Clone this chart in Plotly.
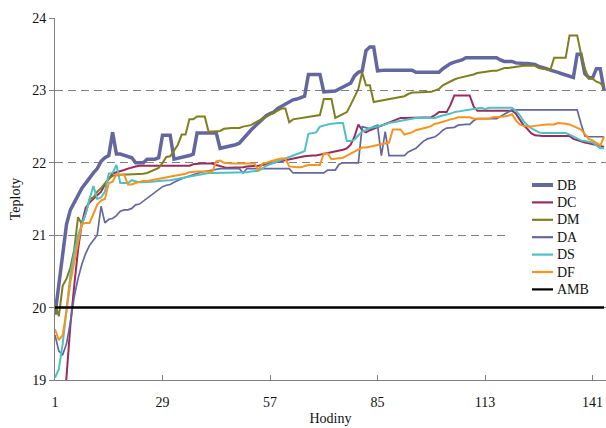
import plotly.graph_objects as go

HOURS = list(range(1, 145))
TICKS = [1, 29, 57, 85, 113, 141]

DB = [19.90, 20.35, 20.80, 21.15, 21.35, 21.45, 21.55, 21.65, 21.72, 21.80,
      21.86, 21.92, 22.02, 22.07, 22.10, 22.42, 22.12, 22.12, 22.10, 22.08,
      22.07, 22.00, 22.00, 22.00, 22.05, 22.05, 22.05, 22.07, 22.38, 22.38,
      22.38, 22.05, 22.06, 22.08, 22.09, 22.10, 22.12, 22.41, 22.41, 22.41,
      22.41, 22.41, 22.41, 22.20, 22.21, 22.22, 22.23, 22.25, 22.27, 22.33,
      22.40, 22.45, 22.50, 22.55, 22.60, 22.65, 22.68, 22.70, 22.75, 22.78,
      22.80, 22.83, 22.87, 22.88, 22.90, 22.92, 23.22, 23.22, 23.22, 23.22,
      22.98, 22.98, 22.98, 22.99, 23.02, 23.05, 23.08, 23.10, 23.20, 23.25,
      23.27, 23.55, 23.60, 23.60, 23.27, 23.28, 23.28, 23.28, 23.28, 23.28,
      23.28, 23.28, 23.28, 23.28, 23.25, 23.25, 23.25, 23.25, 23.25, 23.25,
      23.25, 23.30, 23.34, 23.37, 23.39, 23.40, 23.42, 23.45, 23.45, 23.45,
      23.45, 23.45, 23.45, 23.45, 23.45, 23.45, 23.42, 23.40, 23.40, 23.40,
      23.38, 23.37, 23.37, 23.37, 23.36, 23.36, 23.33, 23.32, 23.30, 23.28,
      23.27, 23.25, 23.23, 23.21, 23.19, 23.18, 23.50, 23.50, 23.23, 23.18,
      23.17, 23.30, 23.30, 23.00]

DC = [17.50, 17.90, 18.40, 19.05, 19.75, 20.30, 20.80, 21.17, 21.38, 21.45,
      21.50, 21.55, 21.60, 21.70, 21.78, 21.85, 21.87, 21.88, 21.90, 21.92,
      21.94, 21.95, 21.96, 21.96, 21.96, 21.96, 21.96, 21.96, 21.96, 21.96,
      21.96, 21.96, 21.96, 21.96, 21.96, 21.96, 21.98, 21.99, 21.99, 21.99,
      21.99, 21.99, 21.97, 21.95, 21.94, 21.93, 21.93, 21.93, 21.93, 21.94,
      21.95, 21.95, 21.96, 21.96, 21.97, 21.98, 21.99, 22.00, 22.01, 22.02,
      22.03, 22.05, 22.06, 22.07, 22.08, 22.09, 22.10, 22.10, 22.10, 22.11,
      22.12, 22.13, 22.14, 22.15, 22.16, 22.18, 22.20, 22.25, 22.36, 22.53,
      22.45, 22.42, 22.45, 22.47, 22.50, 22.52, 22.53, 22.55, 22.57, 22.60,
      22.62, 22.62, 22.62, 22.62, 22.62, 22.62, 22.62, 22.62, 22.63, 22.66,
      22.70, 22.70, 22.70, 22.80, 22.93, 22.93, 22.93, 22.93, 22.93, 22.78,
      22.72, 22.72, 22.72, 22.72, 22.72, 22.72, 22.72, 22.72, 22.72, 22.72,
      22.68, 22.60, 22.52, 22.47, 22.41, 22.38, 22.37, 22.37, 22.37, 22.37,
      22.37, 22.37, 22.37, 22.37, 22.37, 22.33, 22.31, 22.29, 22.28, 22.27,
      22.26, 22.24, 22.23, 22.22]

DM = [20.05, 19.88, 20.30, 20.40, 20.55, 20.80, 21.25, 21.15, 21.30, 21.50,
      21.52, 21.60, 21.65, 21.72, 21.78, 21.82, 21.83, 21.84, 21.84, 21.84,
      21.84, 21.84, 21.84, 21.85, 21.86, 21.88, 21.90, 21.93, 22.00, 22.08,
      22.09, 22.18, 22.25, 22.39, 22.39, 22.60, 22.60, 22.64, 22.64, 22.64,
      22.43, 22.43, 22.43, 22.44, 22.47, 22.48, 22.48, 22.48, 22.48, 22.50,
      22.51, 22.52, 22.55, 22.58, 22.61, 22.63, 22.66, 22.69, 22.72, 22.75,
      22.75, 22.56, 22.60, 22.61, 22.62, 22.63, 22.64, 22.65, 22.66, 22.66,
      22.88, 22.88, 22.88, 22.62, 22.65, 22.67, 22.70, 22.80, 22.92, 23.02,
      23.25, 23.07, 23.07, 22.84, 22.85, 22.86, 22.87, 22.89, 22.90, 22.91,
      22.92, 22.92, 22.95, 22.97, 22.97, 22.97, 22.97, 22.97, 22.98, 23.00,
      23.02, 23.07, 23.10, 23.12, 23.15, 23.17, 23.18, 23.19, 23.20, 23.22,
      23.24, 23.25, 23.26, 23.27, 23.27, 23.27, 23.29, 23.31, 23.31, 23.32,
      23.32, 23.33, 23.34, 23.34, 23.34, 23.34, 23.31, 23.30, 23.30, 23.28,
      23.45, 23.45, 23.45, 23.45, 23.76, 23.76, 23.76, 23.50, 23.30, 23.16,
      23.16, 23.12, 23.10, 23.05]

DA = [19.62, 19.40, 19.35, 19.50, 19.80, 20.15, 20.40, 20.60, 20.75, 20.86,
      20.93, 21.00, 21.40, 21.17, 21.22, 21.23, 21.27, 21.33, 21.35, 21.35,
      21.37, 21.42, 21.43, 21.47, 21.52, 21.55, 21.60, 21.63, 21.67, 21.69,
      21.70, 21.73, 21.76, 21.78, 21.80, 21.82, 21.84, 21.85, 21.87, 21.88,
      21.89, 21.90, 21.92, 21.92, 21.92, 21.92, 21.92, 21.92, 21.92, 21.86,
      21.92, 21.92, 21.92, 21.92, 21.92, 21.92, 21.92, 21.92, 21.92, 21.92,
      21.92, 21.92, 21.86, 21.86, 21.86, 21.86, 21.86, 21.86, 21.86, 21.86,
      21.86, 21.90, 21.90, 21.90, 21.98, 22.00, 22.00, 22.00, 22.00, 22.00,
      22.50, 22.48, 22.47, 22.50, 22.52, 22.10, 22.43, 22.10, 22.10, 22.10,
      22.10, 22.10, 22.15, 22.18, 22.20, 22.25, 22.30, 22.33, 22.35, 22.36,
      22.40, 22.45, 22.48, 22.48, 22.49, 22.52, 22.53, 22.53, 22.53, 22.58,
      22.61, 22.61, 22.61, 22.61, 22.61, 22.61, 22.64, 22.67, 22.70, 22.73,
      22.73, 22.73, 22.73, 22.73, 22.73, 22.73, 22.73, 22.73, 22.73, 22.73,
      22.73, 22.73, 22.73, 22.73, 22.73, 22.73, 22.73, 22.54, 22.37, 22.36,
      22.36, 22.36, 22.36, 22.36]

DS = [19.03, 19.15, 19.50, 20.00, 20.45, 20.75, 21.00, 21.15, 21.30, 21.50,
      21.68, 21.50, 21.52, 21.60, 21.85, 21.86, 21.97, 21.72, 21.72, 21.72,
      21.76, 21.74, 21.73, 21.73, 21.73, 21.73, 21.74, 21.75, 21.75, 21.76,
      21.76, 21.77, 21.78, 21.79, 21.81, 21.82, 21.83, 21.84, 21.84, 21.85,
      21.86, 21.86, 21.86, 21.86, 21.86, 21.86, 21.86, 21.86, 21.86, 21.86,
      21.87, 21.88, 21.88, 21.89, 21.92, 21.96, 21.98, 22.00, 22.02, 22.04,
      22.06, 22.08, 22.10, 22.12, 22.14, 22.16, 22.40, 22.41, 22.42, 22.50,
      22.52, 22.53, 22.54, 22.55, 22.55, 22.55, 22.30, 22.30, 22.32, 22.38,
      22.43, 22.45, 22.48, 22.49, 22.50, 22.52, 22.53, 22.55, 22.56, 22.57,
      22.58, 22.60, 22.61, 22.62, 22.62, 22.62, 22.62, 22.62, 22.62, 22.62,
      22.64, 22.65, 22.67, 22.68, 22.70, 22.71, 22.72, 22.72, 22.73, 22.74,
      22.75, 22.76, 22.74, 22.76, 22.76, 22.76, 22.76, 22.76, 22.76, 22.76,
      22.72, 22.66, 22.58, 22.52, 22.48, 22.45, 22.42, 22.41, 22.41, 22.41,
      22.41, 22.41, 22.41, 22.41, 22.39, 22.36, 22.33, 22.31, 22.30, 22.29,
      22.28, 22.24, 22.20, 22.20]

DF = [19.70, 19.55, 19.62, 19.95, 20.35, 20.65, 20.90, 21.15, 21.17, 21.17,
      21.30, 21.42, 21.48, 21.50, 21.72, 21.74, 21.84, 21.84, 21.84, 21.70,
      21.70, 21.72, 21.74, 21.75, 21.75, 21.76, 21.77, 21.78, 21.79, 21.80,
      21.81, 21.82, 21.83, 21.84, 21.85, 21.87, 21.88, 21.88, 21.88, 21.88,
      21.88, 21.88, 22.02, 22.03, 22.00, 21.99, 21.99, 21.99, 21.99, 21.99,
      21.99, 21.99, 21.99, 21.89, 21.99, 22.00, 22.02, 22.03, 22.05, 22.06,
      22.06, 21.95, 21.94, 21.94, 21.94, 21.96, 21.97, 21.97, 21.97, 21.97,
      22.13, 22.13, 22.05, 22.06, 22.06, 22.07, 22.10, 22.13, 22.16, 22.19,
      22.21, 22.21, 22.22, 22.23, 22.25, 22.26, 22.27, 22.28, 22.46, 22.46,
      22.46, 22.39, 22.40, 22.42, 22.45, 22.46, 22.47, 22.49, 22.51, 22.54,
      22.55, 22.57, 22.59, 22.60, 22.61, 22.63, 22.63, 22.63, 22.63, 22.61,
      22.61, 22.61, 22.61, 22.61, 22.63, 22.63, 22.64, 22.64, 22.65, 22.67,
      22.59, 22.53, 22.51, 22.50, 22.50, 22.51, 22.52, 22.53, 22.53, 22.53,
      22.53, 22.55, 22.55, 22.54, 22.53, 22.51, 22.49, 22.46, 22.40, 22.33,
      22.31, 22.27, 22.24, 22.36]

AMB = [20.0] * len(HOURS)

SERIES = [
    ("DB", DB, "#64679f", 3.5),
    ("DC", DC, "#9b2b5e", 2.0),
    ("DM", DM, "#7f7f1f", 2.0),
    ("DA", DA, "#64679f", 1.7),
    ("DS", DS, "#4dc1c3", 2.0),
    ("DF", DF, "#f7941e", 2.0),
    ("AMB", AMB, "#000000", 2.5),
]

FONT = "Liberation Serif"
W, H = 606, 428
ML, MR, MT, MB = 55, 0, 18, 48
PW, PH = W - ML - MR, H - MT - MB


def px_to_paper_x(px):
    return (px - ML) / PW


def px_to_paper_y(py):
    return (H - MB - py) / PH


fig = go.Figure()
for name, vals, color, w in SERIES:
    fig.add_trace(go.Scatter(
        x=HOURS, y=vals, name=name, mode="lines",
        line=dict(color=color, width=w), showlegend=False,
    ))

# Legend drawn as shapes + text, in paper coordinates
shapes = [dict(
    type="rect", xref="paper", yref="paper", layer="above",
    x0=px_to_paper_x(508), x1=px_to_paper_x(606),
    y0=px_to_paper_y(298), y1=px_to_paper_y(176),
    fillcolor="white", line=dict(width=0),
)]
annotations = []
row0, step = 185.0, 17.4
for k, (name, vals, color, w) in enumerate(SERIES):
    yy = px_to_paper_y(row0 + k * step)
    shapes.append(dict(
        type="line", xref="paper", yref="paper", layer="above",
        x0=px_to_paper_x(532), x1=px_to_paper_x(553), y0=yy, y1=yy,
        line=dict(color=color, width=(4 if name == "DB" else 2.2)),
    ))
    annotations.append(dict(
        x=px_to_paper_x(555), y=yy, xref="paper", yref="paper",
        text=name, showarrow=False, xanchor="left", yanchor="middle",
        font=dict(family=FONT, size=14, color="#111111"),
    ))

fig.update_layout(
    width=W, height=H,
    margin=dict(l=ML, r=MR, t=MT, b=MB),
    paper_bgcolor="white", plot_bgcolor="white",
    font=dict(family=FONT, size=14, color="#111111"),
    showlegend=False,
    shapes=shapes,
    annotations=annotations,
    xaxis=dict(
        range=[1, 144.5], tickmode="array", tickvals=TICKS,
        ticktext=[str(t) for t in TICKS],
        showgrid=False, zeroline=False, automargin=False,
        showline=True, linecolor="#808080", linewidth=1,
        ticks="inside", ticklen=5, tickcolor="#808080",
        ticklabelstandoff=9,
        title=dict(text="Hodiny", font=dict(family=FONT, size=14), standoff=4),
        tickfont=dict(family=FONT, size=14),
    ),
    yaxis=dict(
        range=[19, 24], tickmode="array", tickvals=[19, 20, 21, 22, 23, 24],
        showgrid=True, gridcolor="#808080", gridwidth=1, griddash="8px,5px",
        zeroline=False, automargin=False,
        showline=True, linecolor="#808080", linewidth=1,
        ticks="outside", ticklen=5, tickcolor="#808080",
        title=dict(text="Teploty", font=dict(family=FONT, size=14), standoff=8),
        tickfont=dict(family=FONT, size=14),
    ),
)

fig.write_html(
    "out.html",
    config={"displayModeBar": False},
    post_script="document.body.style.margin='0px';document.body.style.overflow='hidden';",
)
